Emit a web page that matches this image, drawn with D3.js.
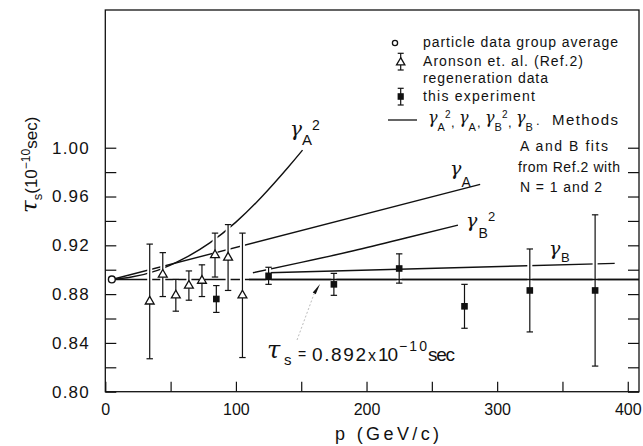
<!DOCTYPE html>
<html>
<head>
<meta charset="utf-8">
<script src="https://cdn.jsdelivr.net/npm/d3@7"></script>
<style>
  body { margin: 0; background: #fff; }
  svg { display: block; }
  text { font-family: "Liberation Sans", "DejaVu Sans", sans-serif; fill: #111; }
  .gam { font-family: "DejaVu Serif", serif; font-style: italic; }
</style>
</head>
<body>
<svg id="chart" width="643" height="446"></svg>
<script>
// particle data group average
var pdgP = [5];
var pdgTau = [0.892];
// Aronson et al. regeneration data (open triangles)
var aronsonP = [34, 44, 54, 64, 74, 84, 94, 105];
var aronsonTau = [0.874, 0.896, 0.879, 0.887, 0.891, 0.912, 0.910, 0.879];
var aronsonErr = [0.047, 0.018, 0.013, 0.012, 0.013, 0.018, 0.027, 0.051];
// this experiment (filled squares)
var expP = [85, 125, 175, 225, 275, 325, 375];
var expTau = [0.876, 0.895, 0.888, 0.901, 0.870, 0.883, 0.883];
var expErr = [0.011, 0.007, 0.009, 0.012, 0.018, 0.034, 0.062];
// fit curves
var gA2P = [5, 20, 40, 60, 80, 100, 120, 140, 151];
var gA2Tau = [0.892, 0.894, 0.8995, 0.909, 0.922, 0.939, 0.960, 0.984, 0.998];
var gAP = [5, 287];
var gATau = [0.892, 0.970];
var gB2P = [113, 150, 190, 230, 270];
var gB2Tau = [0.8975, 0.906, 0.9155, 0.926, 0.9366];
var gBP = [125, 390];
var gBTau = [0.8975, 0.9052];
var tauAvg = 0.892;
var tauLineP = [5, 408.6];
// ticks
var xTicks = [0, 50, 100, 150, 200, 250, 300, 350, 400];
var xLabels = [0, 100, 200, 300, 400];
var yTicks = [0.80, 0.82, 0.84, 0.86, 0.88, 0.90, 0.92, 0.94, 0.96, 0.98, 1.00];
var yLabels = [0.80, 0.84, 0.88, 0.92, 0.96, 1.00];

var svg = d3.select('#chart');
var x = d3.scaleLinear().domain([0, 408.6]).range([105.3, 639]);
var y = d3.scaleLinear().domain([0.80, 1.1129]).range([391.7, 10]);

function pts(ps, ts) {
  return ps.map(function(p, i) { return [p, ts[i]]; });
}
var line = d3.line().x(function(d) { return x(d[0]); }).y(function(d) { return y(d[1]); });
var curve = d3.line().curve(d3.curveNatural).x(function(d) { return x(d[0]); }).y(function(d) { return y(d[1]); });

// frame
svg.append('rect')
  .attr('x', x(0)).attr('y', y.range()[1])
  .attr('width', x.range()[1] - x(0)).attr('height', y(0.80) - y.range()[1])
  .attr('fill', 'none').attr('stroke', '#111').attr('stroke-width', 1.3);

// axes
var yAxis = svg.append('g').attr('transform', 'translate(' + x(0) + ',0)')
  .call(d3.axisLeft(y).tickValues(yTicks).tickSize(-11).tickSizeOuter(0)
    .tickFormat(function(d) { return yLabels.indexOf(d) >= 0 ? d3.format('.2f')(d) : ''; }));
yAxis.select('.domain').remove();
yAxis.selectAll('text').attr('x', 52 - x(0)).attr('text-anchor', 'start')
  .style('font-size', '17px').style('letter-spacing', '1.2px').style('font-family', '"Liberation Sans", sans-serif');

var rAxis = svg.append('g').attr('transform', 'translate(' + x.range()[1] + ',0)')
  .call(d3.axisRight(y).tickValues(yTicks).tickSize(-11).tickSizeOuter(0).tickFormat(''));
rAxis.select('.domain').remove();

var xAxis = svg.append('g').attr('transform', 'translate(0,' + y(0.80) + ')')
  .call(d3.axisBottom(x).tickValues(xTicks).tickSize(-10).tickSizeOuter(0).tickPadding(12)
    .tickFormat(function(d) { return xLabels.indexOf(d) >= 0 ? d : ''; }));
xAxis.select('.domain').remove();
xAxis.selectAll('text').style('font-size', '16px').style('font-family', '"Liberation Sans", sans-serif');
svg.selectAll('.tick line').attr('stroke', '#111').attr('stroke-width', 1.2);
svg.selectAll('.tick text').attr('fill', '#111');

// axis titles
svg.append('text').attr('x', 387).attr('y', 440).attr('text-anchor', 'middle')
  .style('font-size', '18px').attr('textLength', 104).text('p (GeV/c)');

var yl = svg.append('text').attr('transform', 'translate(37,213) rotate(-90)');
yl.append('tspan').attr('class', 'gam').style('font-size', '23px').text('τ');
yl.append('tspan').style('font-size', '13px').attr('dy', 5).text('s');
yl.append('tspan').style('font-size', '17px').attr('dy', -5).text('(10');
yl.append('tspan').style('font-size', '12px').attr('dy', -7).text('−10');
yl.append('tspan').style('font-size', '17px').attr('dy', 7).text('sec)');

// fit curves and average line
var lines = svg.append('g').attr('fill', 'none').attr('stroke', '#111').attr('stroke-width', 1.4);
lines.append('path').attr('d', line([[tauLineP[0], tauAvg], [tauLineP[1], tauAvg]]));
lines.append('path').attr('d', curve(pts(gA2P, gA2Tau)));
lines.append('path').attr('d', line(pts(gAP, gATau)));
lines.append('path').attr('d', curve(pts(gB2P, gB2Tau)));
lines.append('path').attr('d', line(pts(gBP, gBTau)));

// gaps where error bars cross the lines
var allBars = pts(aronsonP, aronsonTau).map(function(d, i) { return [d[0], d[1], aronsonErr[i]]; })
  .concat(pts(expP, expTau).map(function(d, i) { return [d[0], d[1], expErr[i]]; }));
svg.append('g').selectAll('line').data(allBars).join('line')
  .attr('x1', function(d) { return x(d[0]); }).attr('x2', function(d) { return x(d[0]); })
  .attr('y1', function(d) { return y(d[1] + d[2]); }).attr('y2', function(d) { return y(d[1] - d[2]); })
  .attr('stroke', '#fff').attr('stroke-width', 5);
// average line stays solid beyond the regeneration data
svg.append('path').attr('d', line([[110, tauAvg], [tauLineP[1], tauAvg]]))
  .attr('fill', 'none').attr('stroke', '#111').attr('stroke-width', 1.4);

// error bars
function errorBars(g, data, cap) {
  var eb = g.append('g').attr('stroke', '#111').attr('stroke-width', 1.2);
  eb.selectAll('.v').data(data).join('line').attr('class', 'v')
    .attr('x1', function(d) { return x(d[0]); }).attr('x2', function(d) { return x(d[0]); })
    .attr('y1', function(d) { return y(d[1] + d[2]); }).attr('y2', function(d) { return y(d[1] - d[2]); });
  [1, -1].forEach(function(s) {
    eb.selectAll('.c' + (s > 0 ? 't' : 'b')).data(data).join('line').attr('class', 'c' + (s > 0 ? 't' : 'b'))
      .attr('x1', function(d) { return x(d[0]) - cap; }).attr('x2', function(d) { return x(d[0]) + cap; })
      .attr('y1', function(d) { return y(d[1] + s * d[2]); }).attr('y2', function(d) { return y(d[1] + s * d[2]); });
  });
}
errorBars(svg, allBars, 3.2);

// markers
svg.append('g').selectAll('path').data(pts(aronsonP, aronsonTau)).join('path')
  .attr('transform', function(d) { return 'translate(' + x(d[0]) + ',' + y(d[1]) + ')'; })
  .attr('d', d3.symbol(d3.symbolTriangle, 34))
  .attr('fill', '#fff').attr('stroke', '#111').attr('stroke-width', 1.3);
svg.append('g').selectAll('rect').data(pts(expP, expTau)).join('rect')
  .attr('x', function(d) { return x(d[0]) - 3.3; }).attr('y', function(d) { return y(d[1]) - 3.3; })
  .attr('width', 6.6).attr('height', 6.6).attr('fill', '#111');
svg.append('g').selectAll('circle').data(pts(pdgP, pdgTau)).join('circle')
  .attr('cx', function(d) { return x(d[0]); }).attr('cy', function(d) { return y(d[1]); })
  .attr('r', 3.4).attr('fill', '#fff').attr('stroke', '#111').attr('stroke-width', 1.4);

// gamma labels: glyph, subscript letter, optional superscript 2
function gamma(g, gx, gy, gs, sub, sx, sy, ss, sup, px, py, ps) {
  g.append('text').attr('class', 'gam').attr('x', gx).attr('y', gy).style('font-size', gs + 'px').text('γ');
  g.append('text').attr('x', sx).attr('y', sy).style('font-size', ss + 'px').text(sub);
  if (sup) g.append('text').attr('x', px).attr('y', py).style('font-size', ps + 'px').text(sup);
}
gamma(svg, 290, 136, 20, 'A', 302, 145, 15, '2', 312, 130, 14);
gamma(svg, 450, 175, 19, 'A', 461.5, 187, 14);
gamma(svg, 466, 226.5, 19, 'B', 478.5, 238, 14, '2', 488, 220.5, 13);
gamma(svg, 549, 255, 19, 'B', 561, 262, 13);

// legend
var lg = svg.append('g');
lg.append('circle').attr('cx', 395).attr('cy', 43).attr('r', 2.6)
  .attr('fill', '#fff').attr('stroke', '#111').attr('stroke-width', 1.3);
lg.append('text').attr('x', 423).attr('y', 46.5).style('font-size', '14px')
  .attr('textLength', 195).text('particle data group average');
var lt = lg.append('g').attr('stroke', '#111').attr('stroke-width', 1.2);
lt.append('line').attr('x1', 400.7).attr('x2', 400.7).attr('y1', 53.3).attr('y2', 70);
lt.append('line').attr('x1', 397.7).attr('x2', 403.7).attr('y1', 53.3).attr('y2', 53.3);
lt.append('line').attr('x1', 397.7).attr('x2', 403.7).attr('y1', 70).attr('y2', 70);
lg.append('path').attr('transform', 'translate(400.7,62.5)').attr('d', d3.symbol(d3.symbolTriangle, 30))
  .attr('fill', '#fff').attr('stroke', '#111').attr('stroke-width', 1.3);
lg.append('text').attr('x', 423).attr('y', 66).style('font-size', '14px')
  .attr('textLength', 160).text('Aronson et. al. (Ref.2)');
lg.append('text').attr('x', 423).attr('y', 83).style('font-size', '14px')
  .attr('textLength', 125).text('regeneration data');
var ls = lg.append('g').attr('stroke', '#111').attr('stroke-width', 1.2);
ls.append('line').attr('x1', 400.7).attr('x2', 400.7).attr('y1', 88.3).attr('y2', 105);
ls.append('line').attr('x1', 397.7).attr('x2', 403.7).attr('y1', 88.3).attr('y2', 88.3);
ls.append('line').attr('x1', 397.7).attr('x2', 403.7).attr('y1', 105).attr('y2', 105);
lg.append('rect').attr('x', 397.6).attr('y', 93.2).attr('width', 6.2).attr('height', 6.6).attr('fill', '#111');
lg.append('text').attr('x', 423).attr('y', 101).style('font-size', '14px')
  .attr('textLength', 112).text('this experiment');
lg.append('line').attr('x1', 388).attr('x2', 417).attr('y1', 120).attr('y2', 120)
  .attr('stroke', '#111').attr('stroke-width', 1.3);
gamma(lg, 428, 123, 16, 'A', 437.5, 131, 11, '2', 445, 118, 10);
lg.append('text').attr('x', 451).attr('y', 127).style('font-size', '13px').text(',');
gamma(lg, 459, 123, 16, 'A', 468.5, 131, 11);
lg.append('text').attr('x', 477).attr('y', 127).style('font-size', '13px').text(',');
gamma(lg, 485, 123, 16, 'B', 494.5, 131, 11, '2', 502, 118, 10);
lg.append('text').attr('x', 508).attr('y', 127).style('font-size', '13px').text(',');
gamma(lg, 516, 123, 16, 'B', 525.5, 131, 11);
lg.append('text').attr('x', 536).attr('y', 125).style('font-size', '13px').text('.');
lg.append('text').attr('x', 552).attr('y', 125).style('font-size', '15px')
  .attr('textLength', 66).text('Methods');
lg.append('text').attr('x', 520).attr('y', 151).style('font-size', '14px')
  .attr('textLength', 88).text('A and B fits');
lg.append('text').attr('x', 518).attr('y', 172).style('font-size', '14px')
  .attr('textLength', 102).text('from Ref.2 with');
lg.append('text').attr('x', 520).attr('y', 192).style('font-size', '14px')
  .attr('textLength', 82).text('N = 1 and 2');

// annotation of the average value
var tipX = x(164.4), tipY = y(0.8883);
svg.append('line').attr('x1', tipX - 23).attr('y1', tipY + 56).attr('x2', tipX - 6).attr('y2', tipY + 10)
  .attr('stroke', '#aaa').attr('stroke-width', 0.8).attr('stroke-dasharray', '2,2');
svg.append('path').attr('fill', '#111')
  .attr('d', 'M' + tipX + ',' + tipY + 'L' + (tipX - 4.3) + ',' + (tipY + 10.3) + 'L' + (tipX - 7.3) + ',' + (tipY + 8.4) + 'Z');
var an = svg.append('g');
an.append('text').attr('class', 'gam').attr('x', 267).attr('y', 358).style('font-size', '24px').text('τ');
an.append('text').attr('x', 284).attr('y', 365).style('font-size', '15px').text('s');
an.append('text').attr('x', 298).attr('y', 359).style('font-size', '14px').text('=');
an.append('text').attr('x', 312).attr('y', 360.5).style('font-size', '19px').attr('textLength', 54).text('0.892');
an.append('text').attr('x', 368).attr('y', 360.5).style('font-size', '16px').text('x');
an.append('text').attr('x', 378).attr('y', 360.5).style('font-size', '19px').attr('textLength', 20).text('10');
an.append('text').attr('x', 399).attr('y', 351).style('font-size', '14px').attr('textLength', 28).text('−10');
an.append('text').attr('x', 428).attr('y', 360.5).style('font-size', '19px').attr('textLength', 27).text('sec');
</script>
</body>
</html>
